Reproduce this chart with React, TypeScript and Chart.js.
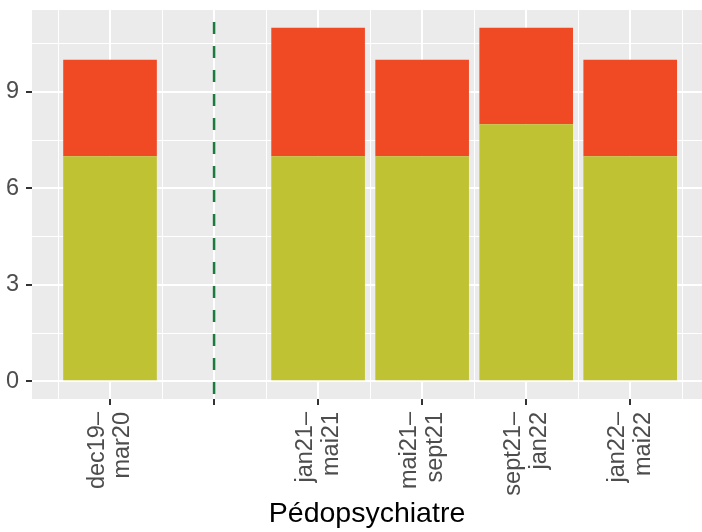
import React, { useEffect, useRef } from "react";
import { Chart, registerables } from "chart.js";

Chart.register(...registerables);

// ---- data ----
const categories: string[][] = [
  ["dec19–", "mar20"],
  [],
  ["jan21–", "mai21"],
  ["mai21–", "sept21"],
  ["sept21–", "jan22"],
  ["jan22–", "mai22"],
];
const positions = [1, 2, 3, 4, 5, 6];
const greenValues: (number | null)[] = [7, null, 7, 7, 8, 7];
const redValues: (number | null)[] = [3, null, 4, 3, 3, 3];
const dividerPosition = 2;
const yMajorTicks = [0, 3, 6, 9];
const xTitle = "Pédopsychiatre";

// ---- scale limits ----
const X_MIN = 0.25;
const X_MAX = 6.69;
const Y_MIN = -0.55;
const Y_MAX = 11.55;

const GREEN = "#BFC232";
const RED = "#F04A25";
const DIVIDER = "#1B7A3D";
const PANEL = "#EBEBEB";
const FONT = "'Liberation Sans', Arial, Helvetica, sans-serif";

const panelBg = {
  id: "panelBg",
  beforeDraw(chart: any) {
    const { ctx, chartArea } = chart;
    ctx.save();
    ctx.fillStyle = PANEL;
    ctx.fillRect(chartArea.left, chartArea.top, chartArea.right - chartArea.left, chartArea.bottom - chartArea.top);
    ctx.restore();
  },
};

const isMajor = (v: number) => Math.abs(v - Math.round(v)) < 1e-9;

export default function App() {
  const ref = useRef<HTMLCanvasElement | null>(null);

  useEffect(() => {
    if (!ref.current) return;
    const toPts = (vals: (number | null)[]) =>
      positions
        .map((p, i) => (vals[i] == null ? null : { x: p, y: vals[i] as number }))
        .filter((d) => d !== null) as { x: number; y: number }[];

    const xTickVals: number[] = [];
    for (let v = 0.5; v <= positions[positions.length - 1] + 0.5 + 1e-9; v += 0.5) xTickVals.push(v);
    const yStep = (yMajorTicks[1] - yMajorTicks[0]) / 2;
    const yTickVals: number[] = [];
    for (let v = yMajorTicks[0]; v <= Y_MAX + 1e-9; v += yStep) yTickVals.push(Math.round(v * 100) / 100);

    const chart = new Chart(ref.current, {
      type: "bar",
      data: {
        datasets: [
          {
            type: "bar",
            label: "green",
            data: toPts(greenValues),
            backgroundColor: GREEN,
            borderWidth: 0,
            categoryPercentage: 1.8,
            barPercentage: 1,
            stack: "s",
          } as any,
          {
            type: "bar",
            label: "red",
            data: toPts(redValues),
            backgroundColor: RED,
            borderWidth: 0,
            categoryPercentage: 1.8,
            barPercentage: 1,
            stack: "s",
          } as any,
          {
            type: "line",
            label: "divider",
            data: [
              { x: dividerPosition, y: Y_MAX },
              { x: dividerPosition, y: Y_MIN },
            ],
            borderColor: DIVIDER,
            borderWidth: 2.5,
            borderDash: [12, 12],
            borderDashOffset: 12,
            pointRadius: 0,
            fill: false,
            stack: "divider",
          } as any,
        ],
      },
      options: {
        responsive: false,
        devicePixelRatio: 1,
        animation: false,
        layout: { padding: { top: 10, left: 0, right: 0, bottom: 0 } },
        plugins: {
          legend: { display: false },
          tooltip: { enabled: false },
        },
        scales: {
          x: {
            type: "linear",
            min: X_MIN,
            max: X_MAX,
            offset: false,
            stacked: true,
            border: { display: false },
            grid: {
              offset: false,
              color: "#FFFFFF",
              lineWidth: (ctx: any) => (ctx.tick && isMajor(ctx.tick.value) ? 2 : 1),
              tickColor: (ctx: any) => (ctx.tick && isMajor(ctx.tick.value) ? "#333333" : "rgba(0,0,0,0)"),
              tickWidth: 2,
              tickLength: 6,
            },
            afterBuildTicks: (scale: any) => {
              scale.ticks = xTickVals.map((v) => ({ value: v }));
            },
            afterFit: (scale: any) => {
              scale.height = 133;
              scale.paddingLeft = 0;
              scale.paddingRight = 0;
            },
            ticks: {
              autoSkip: false,
              minRotation: 90,
              maxRotation: 90,
              padding: 7,
              labelOffset: -12.9,
              color: "#4D4D4D",
              font: { family: FONT, size: 23.5, lineHeight: 1.1 },
              callback: (value: any) => {
                const v = Number(value);
                if (!isMajor(v)) return "";
                const idx = positions.indexOf(Math.round(v));
                if (idx < 0) return "";
                const lab = categories[idx];
                return lab.length ? lab : "";
              },
            },
            title: {
              display: true,
              text: xTitle,
              color: "#000000",
              font: { family: FONT, size: 28.5, lineHeight: 1.2 },
              padding: { top: 0, bottom: 1 },
            },
          },
          y: {
            type: "linear",
            min: Y_MIN,
            max: Y_MAX,
            stacked: true,
            border: { display: false },
            grid: {
              color: "#FFFFFF",
              lineWidth: (ctx: any) => (ctx.tick && yMajorTicks.includes(ctx.tick.value) ? 2 : 1),
              tickColor: (ctx: any) =>
                ctx.tick && yMajorTicks.includes(ctx.tick.value) ? "#333333" : "rgba(0,0,0,0)",
              tickWidth: 2,
              tickLength: 6,
            },
            afterBuildTicks: (scale: any) => {
              scale.ticks = yTickVals.map((v) => ({ value: v }));
            },
            afterFit: (scale: any) => {
              scale.width = 32;
              scale.paddingTop = 0;
              scale.paddingBottom = 0;
            },
            ticks: {
              padding: 7,
              color: "#4D4D4D",
              font: { family: FONT, size: 23.5 },
              callback: (value: any) => (yMajorTicks.includes(Number(value)) ? String(value) : ""),
            },
          },
        },
      } as any,
      plugins: [panelBg],
    });
    return () => chart.destroy();
  }, []);

  return (
    <div style={{ position: "absolute", left: 0, top: 0, width: 702, height: 532, background: "#FFFFFF" }}>
      <canvas ref={ref} width={702} height={532} style={{ display: "block", width: 702, height: 532 }} />
    </div>
  );
}
